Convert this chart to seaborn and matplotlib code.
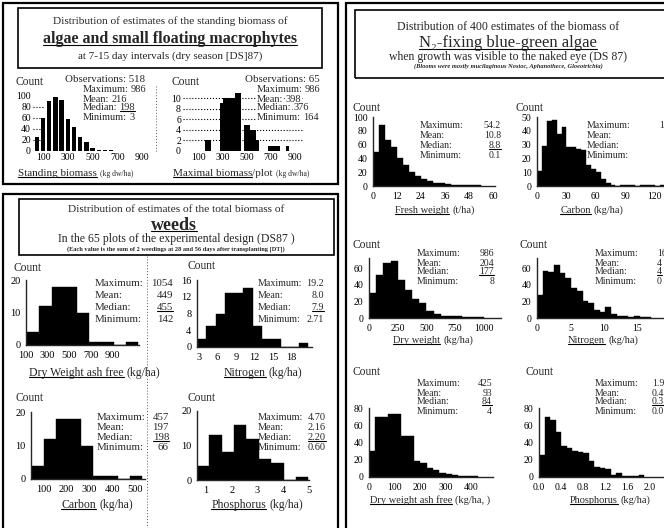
import matplotlib
matplotlib.use("Agg")
import matplotlib.pyplot as plt
from matplotlib.patches import Rectangle
from matplotlib.lines import Line2D
from matplotlib.ticker import MultipleLocator, FormatStrFormatter
import numpy as np
import pandas as pd
import seaborn as sns

W, H = 664, 528

# ---- values: first bin edge, bin width, counts per bin ----
# algae and small floating macrophytes
standing_start, standing_width = 25, 50
standing_counts = [26, 59, 90, 98, 93, 58, 44, 25, 16, 5, 2, 1, 1]
maximal_start, maximal_width = 150, 25
maximal_counts = [2, 2, 0, 0, 0, 9, 10, 10, 10, 10, 11, 11, 0, 5, 5, 4, 4, 2,
                  0, 0, 0, 1, 1, 1, 1, 0, 0, 1]

# weeds (65 plots)
wdw_start, wdw_width = 110, 115
wdw_counts = [4, 12, 18, 18, 10, 1, 1, 0, 1]
wn_start, wn_width = 2.7, 1.5
wn_counts = [2, 5, 8, 13, 13, 14, 5, 2, 2, 0, 0, 1]
wc_start, wc_width = 46, 54
wc_counts = [4, 12, 18, 18, 10, 1, 1, 0, 1]
wp_start, wp_width = 0.65, 0.48
wp_counts = [4, 13, 8, 16, 12, 6, 5, 0, 1]

# N2-fixing blue-green algae (400 estimates)
fresh_start, fresh_width = 0, 3
fresh_counts = [50, 88, 66, 57, 41, 31, 21, 15, 10, 7, 5, 4, 3, 1, 1, 2, 2, 2]
bgc_start, bgc_width = 0, 5
bgc_counts = [11, 29, 47, 48, 38, 43, 28, 28, 27, 26, 15, 12, 10, 5, 2, 1, 0,
              1, 1, 1, 0, 1, 1, 1, 0, 1]
bgdw_start, bgdw_width = 0, 62.5
bgdw_counts = [30, 52, 66, 68, 46, 34, 23, 18, 9, 5, 3, 2, 2, 1, 1, 1]
bgn_start, bgn_width = 0, 0.85
bgn_counts = [28, 56, 55, 64, 54, 48, 36, 32, 20, 18, 10, 7, 13, 5, 3, 2, 1, 2, 1, 1]
bgaf_start, bgaf_width = 0, 25
bgaf_counts = [30, 69, 70, 73, 73, 47, 47, 18, 16, 11, 8, 5, 3, 2, 1, 1, 1]
bgp_start, bgp_width = 0, 0.1
bgp_counts = [25, 70, 66, 52, 36, 34, 30, 29, 28, 18, 12, 10, 9, 2, 5, 1, 1, 1, 2]

stat_names = ["Maximum:", "Mean:", "Median:", "Minimum:"]
standing_stats = ["986", "216", "198", "3"]
maximal_stats = ["986", "398", "376", "164"]
wdw_stats = ["1054", "449", "455", "142"]
wn_stats = ["19.2", "8.0", "7.9", "2.71"]
wc_stats = ["457", "197", "198", "66"]
wp_stats = ["4.70", "2.16", "2.20", "0.60"]
fresh_stats = ["54.2", "10.8", "8.8", "0.1"]
bgdw_stats = ["986", "204", "177", "8"]
bgn_stats = ["16", "4", "4", "0"]
bgaf_stats = ["425", "93", "84", "4"]
bgp_stats = ["1.9", "0.4", "0.3", "0.0"]

sns.set_style("white")
plt.rcParams["font.family"] = ["Liberation Serif", "DejaVu Serif"]
plt.rcParams["axes.linewidth"] = 1.0

fig = plt.figure(figsize=(W / 100, H / 100), dpi=100)

underlined = []   # texts that get a rule under them
follows = []      # (previous text, text, gap px) placed right after previous
pairs = []        # (centre x, main text, unit text)


def ftext(x, y, s, size=8, ha="left", va="center", **kw):
    return fig.text(x / W, 1 - y / H, s, fontsize=size, ha=ha, va=va, **kw)


def after(prev, s, size, gap=2, **kw):
    t = fig.text(0, prev.get_position()[1], s, fontsize=size, ha="left",
                 va=prev.get_va(), **kw)
    follows.append((prev, t, gap))
    return t


def xlabel_pair(cx, y, main, unit, size, unit_size):
    tm = ftext(cx, y, main, size, va="baseline")
    tu = ftext(cx, y, unit, unit_size, va="baseline")
    pairs.append((cx, tm, tu))
    underlined.append(tm)


def box(x0, y0, x1, y1, lw=1.2):
    fig.add_artist(Rectangle((x0 / W, 1 - y1 / H), (x1 - x0) / W, (y1 - y0) / H,
                             transform=fig.transFigure, fill=False,
                             edgecolor="black", lw=lw))


def fold(x, y0, y1):
    # faint dotted crease of the scanned sheet
    fig.add_artist(Line2D([x / W, x / W], [1 - y0 / H, 1 - y1 / H],
                          transform=fig.transFigure, color="0.35", lw=0.7,
                          linestyle=(0, (1, 2))))


def panel_ax(x0, x1, y_top, y_bot):
    return fig.add_axes([x0 / W, 1 - y_bot / H, (x1 - x0) / W, (y_bot - y_top) / H])


def hist(ax, start, width, counts, shrink=1.0):
    edges = start + width * np.arange(len(counts) + 1)
    df = pd.DataFrame({"value": edges[:-1] + width / 2, "count": counts})
    sns.histplot(data=df, x="value", weights="count", bins=list(edges), ax=ax,
                 color="black", alpha=1, edgecolor="black",
                 linewidth=0.3 if shrink == 1 else 0, shrink=shrink, zorder=2)


def style(ax, xlim, ylim, xticks, yticks, size=7, frame=True):
    ax.set_xlim(xlim)
    ax.set_ylim(ylim)
    ax.set_xticks(xticks)
    ax.set_yticks(yticks)
    ax.set_xlabel("")
    ax.set_ylabel("")
    ax.patch.set_alpha(0)
    sns.despine(ax=ax, left=not frame, bottom=not frame)
    ax.tick_params(labelsize=size, length=2.5 if frame else 0, width=0.8,
                   pad=1.5, colors="black", direction="out")


# ================= panel A : algae & small floating macrophytes =================
box(3, 3, 338, 184, lw=1.6)
box(18, 8, 322, 68, lw=1.2)
fold(156, 86, 152)
ftext(170, 21, "Distribution of estimates of the standing biomass of", 8.2, ha="center")
underlined.append(ftext(170, 39, "algae and small floating macrophytes", 11.5,
                        ha="center", fontweight="bold"))
ftext(170, 56, "at 7-15 day intervals (dry season [DS]87)", 8, ha="center")

ax = panel_ax(33, 150, 93, 151)
hist(ax, standing_start, standing_width, standing_counts, shrink=0.72)
style(ax, (19, 963), (0, 105), [100, 300, 500, 700, 900], [0, 20, 40, 60, 80, 100],
      size=7, frame=False)
ax.hlines([20, 40, 60, 80], 19, 110, colors="black", linestyles=":", lw=0.8, zorder=1)
ftext(15, 82, "Count", 8.3)
ftext(65, 80, "Observations: 518", 7.8)
for i, (y, name, val) in enumerate(zip([90, 99, 108, 117], stat_names, standing_stats)):
    t = ftext(83, y, name, 7.5)
    v = after(t, val, 7.5)
    if i == 2:
        underlined.append(v)
lab = ftext(18, 176, "Standing biomass", 8, va="baseline")
underlined.append(lab)
after(lab, "(kg dw/ha)", 5.5, gap=3)

ax = panel_ax(183, 303, 92.7, 151)
hist(ax, maximal_start, maximal_width, maximal_counts, shrink=0.72)
style(ax, (-33, 967), (0, 11), [100, 300, 500, 700, 900], [0, 2, 4, 6, 8, 10],
      size=7, frame=False)
ax.hlines([2, 4, 6, 8, 10], -33, 967, colors="black", linestyles=":", lw=0.8, zorder=1)
ftext(172, 82, "Count", 8.3)
ftext(245, 80, "Observations: 65", 7.8)
for i, (y, name, val) in enumerate(zip([90, 99, 108, 117], stat_names, maximal_stats)):
    t = ftext(257, y, name, 7.5, bbox=dict(fc="white", ec="none", pad=0.5))
    v = after(t, val, 7.5, bbox=dict(fc="white", ec="none", pad=0.5))
    if i == 2:
        underlined.append(v)
lab = ftext(173, 176, "Maximal biomass", 8, va="baseline")
underlined.append(lab)
lab2 = after(lab, "/plot", 8, gap=0)
after(lab2, "(kg dw/ha)", 5.5, gap=3)

# ================= panel B : weeds =================
box(3, 194, 338, 532, lw=1.6)
box(19, 199, 334, 255, lw=1.2)
fold(147, 256, 528)
ftext(176, 210, "Distribution of estimates of the total biomass of", 8.2, ha="center")
underlined.append(ftext(174, 225, "weeds", 13, ha="center", fontweight="bold"))
ftext(176, 239, "In the 65 plots of the experimental design (DS87 )", 8.5, ha="center")
ftext(176, 249.5, "(Each value is the sum of 2 weedings at 28 and 56 days after transplanting [DT])",
      4.6, ha="center", fontweight="bold")


def weed_stats(xl, xr, ys, vals, size=7.8):
    for i, (y, name, val) in enumerate(zip(ys, stat_names, vals)):
        ftext(xl, y, name, size)
        v = ftext(xr, y, val, size, ha="right")
        if i == 2:
            underlined.append(v)


ax = panel_ax(26, 139, 280, 345)
hist(ax, wdw_start, wdw_width, wdw_counts)
style(ax, (100, 1150), (0, 20), [100, 300, 500, 700, 900], [0, 10, 20], size=7.5)
ftext(13, 268, "Count", 8.3)
weed_stats(95, 173, [284, 296, 308, 320], wdw_stats)
xlabel_pair(95, 376, "Dry Weight ash free", "(kg/ha)", 8.5, 8.5)

ax = panel_ax(197, 312, 280, 347)
hist(ax, wn_start, wn_width, wn_counts)
style(ax, (2.67, 21.3), (0, 16), [3, 6, 9, 12, 15, 18], [0, 4, 8, 12, 16], size=7.5)
ftext(187, 266, "Count", 8.3)
weed_stats(258, 324, [284, 296, 308, 320], wn_stats, size=7.2)
xlabel_pair(263, 376, "Nitrogen", "(kg/ha)", 8.5, 8.5)

ax = panel_ax(31, 145, 412, 479)
hist(ax, wc_start, wc_width, wc_counts)
style(ax, (43, 545), (0, 20), [100, 200, 300, 400, 500], [0, 10, 20], size=7.5)
ftext(15, 398, "Count", 8.3)
weed_stats(97, 169, [418, 428, 438, 448], wc_stats)
xlabel_pair(97, 508, "Carbon", "(kg/ha)", 8.5, 8.5)

ax = panel_ax(197, 309, 411, 480)
hist(ax, wp_start, wp_width, wp_counts)
style(ax, (0.65, 5.0), (0, 20), [1, 2, 3, 4, 5], [0, 10, 20], size=7.5)
ftext(187, 398, "Count", 8.3)
weed_stats(258, 326, [418, 428, 438, 448], wp_stats, size=7.4)
xlabel_pair(257, 508, "Phosphorus", "(kg/ha)", 8.5, 8.5)

# ================= panel C : N2-fixing blue-green algae =================
box(346, 3, 672, 532, lw=1.6)
box(355, 10, 672, 78, lw=1.2)
ftext(508, 27, "Distribution of 400 estimates of the biomass of", 8.5, ha="center")
underlined.append(ftext(508, 43, "N\u2082-fixing blue-green algae", 12, ha="center"))
ftext(508, 57, "when growth was visible to the naked eye (DS 87)", 8.5, ha="center")
ftext(508, 66, "(Blooms were mostly mucilaginous Nostoc, Aphanothece, Gloeotrichia)",
      4.6, ha="center", fontweight="bold", fontstyle="italic")


def bga_stats(xl, xv, ys, vals, ha="right"):
    for i, (y, name, val) in enumerate(zip(ys, stat_names, vals)):
        ftext(xl, y, name, 7)
        if val:
            v = ftext(xv, y, val, 7, ha=ha)
            if i == 2:
                underlined.append(v)


def bga_axis(ax, minor):
    ax.xaxis.set_minor_locator(MultipleLocator(minor))
    ax.tick_params(axis="x", which="minor", length=1.5, width=0.6, direction="out")


ax = panel_ax(373, 495, 117, 186)
hist(ax, fresh_start, fresh_width, fresh_counts)
style(ax, (0, 61), (0, 100), [0, 12, 24, 36, 48, 60], [0, 20, 40, 60, 80, 100])
bga_axis(ax, 3)
ftext(353, 108, "Count", 8.3)
bga_stats(420, 501, [126, 136, 146, 155], fresh_stats)
xlabel_pair(435, 213, "Fresh weight", "(t/ha)", 7.5, 7.5)

ax = panel_ax(537, 684, 117, 186)
hist(ax, bgc_start, bgc_width, bgc_counts)
style(ax, (0, 150), (0, 50), [0, 30, 60, 90, 120, 150], [0, 10, 20, 30, 40, 50])
bga_axis(ax, 5)
ftext(515, 108, "Count", 8.3)
bga_stats(587, 659, [126, 136, 146, 155], ["1", "", "", ""], ha="left")
xlabel_pair(592, 213, "Carbon", "(kg/ha)", 7.5, 7.5)

ax = panel_ax(369, 501, 258, 318)
hist(ax, bgdw_start, bgdw_width, bgdw_counts)
style(ax, (0, 1150), (0, 72), [0, 250, 500, 750, 1000], [0, 20, 40, 60])
bga_axis(ax, 62.5)
ftext(353, 245, "Count", 8.3)
bga_stats(417, 494, [254, 263, 272, 281], bgdw_stats)
xlabel_pair(433, 343, "Dry weight", "(kg/ha)", 7.5, 7.5)

ax = panel_ax(537, 671, 258, 318)
hist(ax, bgn_start, bgn_width, bgn_counts)
style(ax, (0, 20), (0, 72), [0, 5, 10, 15, 20], [0, 20, 40, 60])
bga_axis(ax, 1)
ftext(520, 245, "Count", 8.3)
bga_stats(595, 657, [254, 263, 272, 281], bgn_stats, ha="left")
xlabel_pair(603, 343, "Nitrogen", "(kg/ha)", 7.5, 7.5)

ax = panel_ax(369, 493, 408, 477)
hist(ax, bgaf_start, bgaf_width, bgaf_counts)
style(ax, (0, 485), (0, 80), [0, 100, 200, 300, 400], [0, 20, 40, 60, 80])
bga_axis(ax, 25)
ftext(353, 372, "Count", 8.3)
bga_stats(417, 492, [384, 393, 402, 411], bgaf_stats)
xlabel_pair(430, 503, "Dry weight ash free", "(kg/ha, )", 7.5, 7.5)

ax = panel_ax(539, 680, 408, 477)
hist(ax, bgp_start, bgp_width, bgp_counts)
style(ax, (0, 2.55), (0, 80), [0, 0.4, 0.8, 1.2, 1.6, 2.0, 2.4], [0, 20, 40, 60, 80])
ax.xaxis.set_major_formatter(FormatStrFormatter("%.1f"))
bga_axis(ax, 0.1)
ftext(525, 372, "Count", 8.3)
bga_stats(595, 652, [384, 393, 402, 411], bgp_stats, ha="left")
xlabel_pair(610, 503, "Phosphorus", "(kg/ha)", 7.5, 7.5)

# ---- place chained texts and draw the underlines ----
fig.canvas.draw()
r = fig.canvas.get_renderer()
for cx, tm, tu in pairs:
    b1 = tm.get_window_extent(r)
    b2 = tu.get_window_extent(r)
    left = cx - (b1.width + 3 + b2.width) / 2
    tm.set_ha("left")
    tu.set_ha("left")
    tm.set_x(left / W)
    tu.set_x((left + b1.width + 3) / W)
for prev, t, gap in follows:
    b = prev.get_window_extent(r)
    t.set_x((b.x1 + gap) / W)
for t in underlined:
    b = t.get_window_extent(r)
    y = b.y0 + 0.14 * b.height
    fig.add_artist(Line2D([b.x0 / W, b.x1 / W], [y / H, y / H],
                          transform=fig.transFigure, color="black", lw=0.8))

fig.savefig("out.png", dpi=100)
